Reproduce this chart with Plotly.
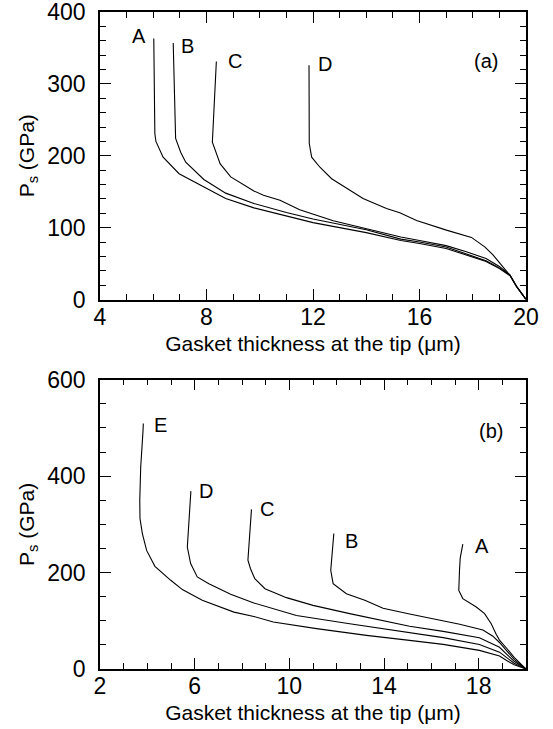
import plotly.graph_objects as go

# ---------------- panel (a) ----------------
a_A_x = [6.02, 6.04, 6.06, 6.10, 6.37, 6.97, 7.53, 8.72, 9.78, 11.0, 12.0, 13.0, 14.0, 15.3, 16.0, 17.0, 17.76, 18.5, 19.0, 19.4, 19.65, 20.0]
a_A_y = [363, 300, 231, 220, 198, 175, 164, 140.5, 127.5, 116, 107, 100, 93, 82, 78, 71, 62, 53, 43, 33, 18, 0]
a_B_x = [6.75, 6.80, 6.84, 7.03, 7.22, 7.90, 8.72, 9.78, 11.0, 12.0, 13.0, 14.0, 15.3, 16.0, 17.0, 17.76, 18.5, 19.0, 19.4, 19.65, 20.0]
a_B_y = [357, 290, 224, 205, 191, 167, 148, 133.6, 121, 112, 104, 97, 84, 80, 73, 63.2, 54, 44, 34, 18, 0]
a_C_x = [8.37, 8.30, 8.22, 8.51, 8.91, 9.78, 10.14, 10.76, 11.5, 12.76, 14.0, 15.3, 16.0, 17.0, 17.76, 18.5, 19.0, 19.4, 19.65, 20.0]
a_C_y = [331, 275, 219, 189, 170.6, 151, 145, 138, 125, 109.5, 98, 87, 82, 75, 66.4, 57, 46, 34, 18, 0]
a_D_x = [11.85, 11.85, 11.86, 11.95, 12.26, 12.7, 13.13, 13.88, 14.76, 15.26, 15.89, 17.01, 17.95, 18.45, 18.76, 19.0, 19.39, 19.64, 20.0]
a_D_y = [326, 280, 217, 198, 184, 168, 157.6, 140.5, 126.6, 120.6, 110, 96.5, 86.4, 73.3, 62, 51, 34, 18, 0]

a_labels = ["A", "B", "C", "D"]
a_label_x = [5.47, 7.29, 9.06, 12.44]
a_label_y = [367, 353, 332, 328]

# ---------------- panel (b) ----------------
b_A_x = [17.33, 17.22, 17.19, 17.16, 17.33, 17.9, 18.25, 18.53, 18.74, 18.88, 19.2, 19.5, 20.0]
b_A_y = [259, 230, 205, 163, 146, 128.6, 114.8, 94, 72, 60, 42, 24, 0]
b_B_x = [11.88, 11.8, 11.75, 11.85, 12.41, 13.19, 13.96, 15.08, 16.07, 17.2, 18.18, 18.6, 18.88, 19.2, 19.5, 20.0]
b_B_y = [281, 240, 204.8, 177, 156, 142.5, 126, 114, 104.5, 93, 81, 68, 55, 36, 20, 0]
b_C_x = [8.4, 8.3, 8.25, 8.36, 8.54, 8.97, 9.88, 11.0, 12.55, 15.08, 16.5, 18.03, 18.88, 19.2, 19.5, 20.0]
b_C_y = [331, 270, 225.5, 208, 187.5, 166.6, 148, 132, 114.8, 88.5, 78, 65, 45, 30, 16, 0]
b_D_x = [5.84, 5.75, 5.69, 5.83, 6.11, 6.6, 7.52, 8.5, 10.3, 12.55, 15.08, 16.5, 18.03, 18.88, 19.2, 19.5, 20.0]
b_D_y = [369, 300, 253, 218.6, 191, 177, 155, 137, 111, 94, 74.6, 65, 51, 35, 23, 12, 0]
b_E_x = [3.83, 3.82, 3.72, 3.68, 3.69, 3.79, 3.97, 4.32, 4.99, 5.48, 6.32, 7.66, 8.5, 9.32, 11.15, 13.26, 15.08, 16.5, 18.03, 18.88, 19.2, 19.5, 20.0]
b_E_y = [509, 496, 419, 350, 312, 281, 246, 213, 184, 164.7, 142.5, 118, 109, 97.4, 83.7, 69.8, 59.4, 51, 38.6, 27, 17, 9, 0]

b_labels = ["A", "B", "C", "D", "E"]
b_label_x = [18.13, 12.64, 9.04, 6.46, 4.55]
b_label_y = [255, 265, 331.5, 368.8, 506]

FONT = "Liberation Sans, Arial, sans-serif"
LINE = dict(color="black", width=1.1)

fig = go.Figure()
for xs, ys in [(a_A_x, a_A_y), (a_B_x, a_B_y), (a_C_x, a_C_y), (a_D_x, a_D_y)]:
    fig.add_trace(go.Scatter(x=xs, y=ys, mode="lines", line=LINE, xaxis="x", yaxis="y",
                             showlegend=False, hoverinfo="skip"))
for xs, ys in [(b_A_x, b_A_y), (b_B_x, b_B_y), (b_C_x, b_C_y), (b_D_x, b_D_y), (b_E_x, b_E_y)]:
    fig.add_trace(go.Scatter(x=xs, y=ys, mode="lines", line=LINE, xaxis="x2", yaxis="y2",
                             showlegend=False, hoverinfo="skip"))

annotations = []
for t, x, y in zip(a_labels, a_label_x, a_label_y):
    annotations.append(dict(text=t, x=x, y=y, xref="x", yref="y", showarrow=False,
                            font=dict(family=FONT, size=20, color="black")))
for t, x, y in zip(b_labels, b_label_x, b_label_y):
    annotations.append(dict(text=t, x=x, y=y, xref="x2", yref="y2", showarrow=False,
                            font=dict(family=FONT, size=20, color="black")))
annotations.append(dict(text="(a)", x=18.5, y=332, xref="x", yref="y", showarrow=False,
                        font=dict(family=FONT, size=20, color="black")))
annotations.append(dict(text="(b)", x=18.5, y=494, xref="x2", yref="y2", showarrow=False,
                        font=dict(family=FONT, size=20, color="black")))


def xax(rng, tick0, dtick, anchor):
    return dict(range=rng, tick0=tick0, dtick=dtick, ticks="inside", ticklen=11, tickwidth=1.2,
                tickcolor="black", showline=True, linecolor="black", linewidth=1.5, mirror="allticks",
                showgrid=False, zeroline=False, anchor=anchor, ticklabelstandoff=-4, automargin=False,
                ticklabeloverflow="allow",
                tickfont=dict(family=FONT, size=23, color="black"),
                minor=dict(ticks="inside", ticklen=6, dtick=1, tickwidth=1.2, tickcolor="black", showgrid=False),
                title=dict(text="Gasket thickness at the tip (\u03bcm)", standoff=7,
                           font=dict(family=FONT, size=21, color="black")))


def yax(rng, dtick, minor_dtick, domain, anchor):
    return dict(range=rng, tick0=0, dtick=dtick, ticks="inside", ticklen=11, tickwidth=1.2,
                tickcolor="black", showline=True, linecolor="black", linewidth=1.5, mirror="allticks",
                showgrid=False, zeroline=False, domain=domain, anchor=anchor, ticklabelstandoff=8,
                automargin=False, ticklabeloverflow="allow",
                tickfont=dict(family=FONT, size=23, color="black"),
                minor=dict(ticks="inside", ticklen=6, dtick=minor_dtick, tickwidth=1.2, tickcolor="black", showgrid=False),
                title=dict(text="P<sub>s</sub> (GPa)", standoff=7,
                           font=dict(family=FONT, size=21, color="black")))


fig.update_layout(
    template="none",
    width=553, height=729,
    margin=dict(l=100, r=27, t=12, b=60),
    paper_bgcolor="white", plot_bgcolor="white",
    xaxis=xax([4, 20], 4, 4, "y"),
    yaxis=yax([0, 400], 100, 20, [0.5624, 1.0], "x"),
    xaxis2=xax([2, 20], 2, 4, "y2"),
    yaxis2=yax([0, 600], 200, 50, [0.0, 0.4403], "x2"),
    annotations=annotations,
)

fig.write_html("out.html")
